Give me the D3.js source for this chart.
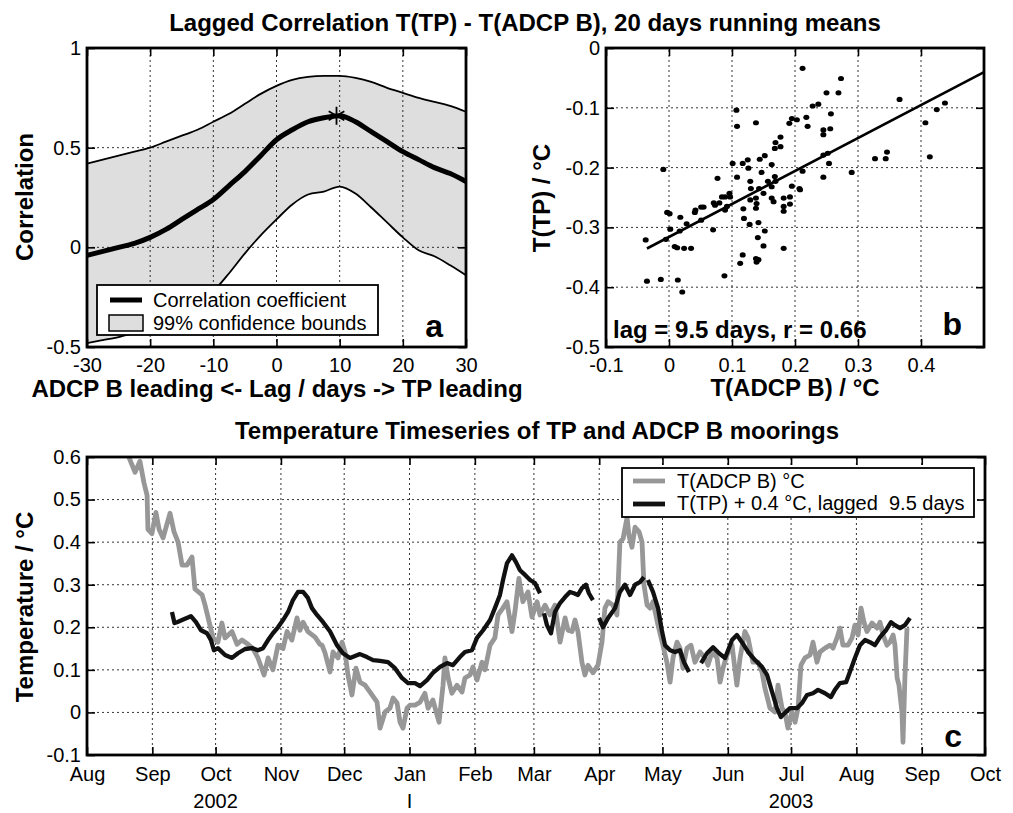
<!DOCTYPE html>
<html>
<head>
<meta charset="utf-8">
<script src="https://cdn.jsdelivr.net/npm/d3@7"></script>
<style>
  body { margin: 0; background: #fff; }
  svg { font-family: "Liberation Sans", Arial, Helvetica, sans-serif; }
</style>
</head>
<body>
<svg id="fig" width="1013" height="813"></svg>
<script>
// ---- panel a: lagged correlation ----
const lagDays = [-30,-27.5,-25,-22.5,-20,-17.5,-15,-12.5,-10,-7.5,-5,-2.5,0,2.5,5,7.5,10,12.5,15,17.5,20,22.5,25,27.5,30]
const corrCoef = [-0.04,-0.02,0.0,0.02,0.05,0.09,0.14,0.19,0.24,0.31,0.38,0.46,0.54,0.59,0.63,0.65,0.66,0.63,0.58,0.53,0.48,0.44,0.40,0.37,0.33]
const upperBound = [0.42,0.44,0.46,0.48,0.50,0.53,0.56,0.59,0.63,0.67,0.72,0.77,0.81,0.84,0.855,0.86,0.86,0.85,0.83,0.80,0.775,0.75,0.73,0.71,0.68]
const lowerBound = [-0.48,-0.465,-0.45,-0.43,-0.41,-0.37,-0.33,-0.28,-0.22,-0.13,-0.03,0.06,0.14,0.215,0.265,0.28,0.305,0.27,0.20,0.125,0.05,-0.015,-0.045,-0.09,-0.14]
const bestLag = [9.5, 0.66]

// ---- panel b: scatter ----
const adcpB = [0.212,0.273,0.250,0.269,0.228,0.237,0.257,0.366,0.438,0.425,0.407,0.414,0.327,0.344,0.346,0.290,
  0.107,0.108,0.138,0.191,0.195,0.203,0.218,0.220,0.245,0.245,0.256,0.177,0.169,0.168,0.177,0.152,0.144,0.163,
  0.245,0.254,0.252,0.212,0.245,0.208,0.207,0.195,0.192,0.192,0.182,0.182,0.182,0.182,0.169,0.168,0.163,0.163,
  0.166,0.157,0.150,0.147,0.143,0.138,0.139,0.138,0.129,0.130,0.129,0.126,0.125,0.117,0.101,0.108,0.118,0.119,
  0.128,0.142,0.141,0.152,0.150,0.138,0.139,0.142,0.117,0.113,0.088,0.097,0.096,0.089,0.089,0.092,0.084,0.077,
  0.071,0.080,0.073,0.070,0.051,0.051,0.055,0.042,0.041,0.028,0.018,0.017,0.009,0.013,0.024,0.035,0.002,-0.003,
  0.001,-0.005,-0.009,-0.037,-0.035,-0.013,0.014,0.021]
const tpT = [-0.034,-0.051,-0.075,-0.075,-0.097,-0.094,-0.110,-0.086,-0.092,-0.103,-0.125,-0.182,-0.185,-0.185,-0.174,-0.208,
  -0.104,-0.131,-0.125,-0.126,-0.118,-0.120,-0.116,-0.131,-0.137,-0.145,-0.135,-0.149,-0.158,-0.168,-0.165,-0.180,-0.186,-0.195,
  -0.179,-0.193,-0.176,-0.206,-0.216,-0.237,-0.235,-0.231,-0.249,-0.261,-0.251,-0.265,-0.273,-0.335,-0.223,-0.215,-0.232,-0.251,
  -0.257,-0.223,-0.243,-0.208,-0.235,-0.251,-0.260,-0.268,-0.223,-0.235,-0.254,-0.201,-0.187,-0.193,-0.193,-0.216,-0.269,-0.285,
  -0.295,-0.292,-0.317,-0.306,-0.331,-0.352,-0.358,-0.354,-0.346,-0.360,-0.381,-0.249,-0.243,-0.249,-0.271,-0.265,-0.249,-0.218,
  -0.259,-0.259,-0.263,-0.304,-0.266,-0.288,-0.266,-0.271,-0.275,-0.294,-0.283,-0.306,-0.332,-0.334,-0.335,-0.335,-0.303,-0.275,
  -0.277,-0.320,-0.203,-0.321,-0.390,-0.387,-0.388,-0.408]
const fitSlope = 0.551, fitIntercept = -0.316, fitFrom = -0.035, fitTo = 0.5

// ---- panel c: time series, [days after 1 Aug 2002, temperature] ----
const adcpSeries = [[19.0,0.61],[22.8,0.564],[25.1,0.59],[27.0,0.54],[28.5,0.51],[28.9,0.43],[30.8,0.42],[32.7,0.47],[34.2,0.43],
  [36.1,0.41],[39.4,0.468],[41.3,0.424],[43.2,0.40],[45.1,0.346],[47.4,0.346],[49.8,0.365],[51.2,0.29],[54.6,0.276],[56.0,0.252],
  [58.3,0.205],[59.8,0.175],[62.1,0.165],[64.0,0.21],[65.5,0.175],[68.8,0.19],[71.2,0.16],[73.5,0.17],[76.4,0.16],[78.7,0.15],
  [81.1,0.128],[84.0,0.088],[85.9,0.128],[88.2,0.10],[90.6,0.158],[93.0,0.15],[94.9,0.19],[97.2,0.17],[99.6,0.222],[101.0,0.193],
  [102.5,0.212],[104.8,0.19],[108.2,0.177],[110.5,0.16],[111.5,0.158],[112.9,0.14],[115.3,0.095],[116.7,0.142],[119.1,0.128],
  [121.0,0.165],[122.4,0.142],[123.8,0.088],[125.7,0.041],[127.6,0.104],[129.5,0.071],[131.9,0.064],[135.2,0.041],[137.6,0.024],
  [139.0,-0.037],[141.4,0.001],[143.7,0.01],[145.2,0.034],[147.1,0.022],[148.5,-0.023],[149.9,-0.037],[151.8,0.01],[153.2,0.017],
  [155.6,0.017],[158.0,0.024],[160.3,0.045],[161.8,0.01],[164.1,0.029],[167.0,-0.023],[168.9,0.064],[169.8,0.128],[171.3,0.081],
  [173.1,0.045],[175.5,0.064],[177.9,0.048],[179.3,0.081],[181.7,0.088],[183.1,0.107],[185.0,0.076],[187.4,0.118],[188.8,0.10],
  [191.2,0.158],[193.5,0.175],[195.0,0.229],[197.3,0.245],[199.2,0.26],[201.6,0.19],[203.0,0.236],[204.9,0.315],[206.8,0.26],
  [209.2,0.283],[211.1,0.224],[213.5,0.26],[214.9,0.229],[217.3,0.252],[219.6,0.229],[222.0,0.252],[224.4,0.165],[226.8,0.222],
  [228.2,0.193],[230.1,0.19],[231.5,0.217],[232.9,0.19],[234.8,0.118],[236.2,0.088],[237.7,0.111],[240.0,0.093],[242.4,0.111],
  [244.3,0.165],[245.7,0.245],[247.2,0.26],[249.5,0.252],[251.4,0.229],[252.8,0.40],[254.3,0.408],[256.2,0.458],[257.1,0.416],
  [258.5,0.388],[260.0,0.435],[261.9,0.424],[263.3,0.40],[264.2,0.30],[265.7,0.252],[267.1,0.245],[268.5,0.26],[270.9,0.205],
  [273.2,0.158],[275.1,0.118],[276.6,0.071],[278.0,0.128],[279.9,0.165],[281.3,0.151],[282.7,0.104],[284.6,0.151],[286.5,0.158],
  [288.4,0.118],[290.8,0.142],[293.2,0.128],[294.6,0.111],[296.5,0.142],[298.9,0.128],[300.3,0.071],[301.7,0.104],[303.6,0.135],
  [306.0,0.158],[308.3,0.064],[309.8,0.128],[312.1,0.19],[313.6,0.175],[315.9,0.118],[318.3,0.118],[320.2,0.095],[321.6,0.057],
  [324.0,0.01],[326.4,0.001],[327.8,0.064],[329.7,0.01],[331.1,0.001],[332.5,-0.037],[334.4,0.001],[335.9,-0.023],[337.3,0.01],
  [338.7,0.111],[340.6,0.128],[343.0,0.135],[344.4,0.165],[346.3,0.118],[347.7,0.142],[350.1,0.151],[352.5,0.158],[353.9,0.151],
  [355.8,0.175],[357.2,0.198],[358.6,0.158],[361.0,0.158],[362.9,0.175],[364.3,0.205],[365.8,0.182],[367.2,0.245],[368.6,0.212],
  [370.0,0.19],[372.4,0.21],[374.8,0.198],[376.2,0.212],[377.6,0.182],[379.5,0.158],[380.9,0.165],[382.4,0.182],[383.3,0.158],
  [384.3,0.081],[385.2,0.064],[386.6,0.001],[387.1,-0.07],[388.0,0.081],[389.0,0.198]]
// null marks a gap in the TP record
const tpSeries = [[40.3,0.236],[41.5,0.21],[42.7,0.212],[45.1,0.217],[49.3,0.226],[51.7,0.212],[54.1,0.193],[56.9,0.186],[58.8,0.17],
  [60.2,0.146],[62.1,0.151],[65.5,0.135],[68.8,0.128],[71.6,0.139],[75.0,0.149],[78.3,0.151],[81.1,0.146],[83.5,0.151],[85.9,0.17],
  [88.2,0.186],[90.6,0.20],[93.0,0.217],[95.4,0.236],[97.7,0.264],[100.1,0.283],[102.5,0.283],[104.8,0.269],[106.7,0.245],
  [109.1,0.229],[112.0,0.212],[115.3,0.19],[118.6,0.158],[121.4,0.139],[124.8,0.128],[129.5,0.137],[132.8,0.13],[135.7,0.123],
  [139.0,0.121],[142.8,0.118],[146.1,0.104],[149.4,0.081],[152.3,0.069],[155.6,0.069],[158.0,0.062],[161.3,0.076],[164.1,0.093],
  [167.5,0.107],[170.8,0.116],[173.6,0.111],[176.9,0.13],[179.3,0.142],[182.6,0.146],[185.0,0.175],[187.9,0.193],[191.2,0.217],
  [193.5,0.245],[195.9,0.276],[197.3,0.31],[199.2,0.35],[201.6,0.369],[203.5,0.353],[205.4,0.334],[207.8,0.323],[210.2,0.311],
  [212.5,0.304],[214.9,0.28],
  null,
  [216.8,0.233],[218.2,0.205],[220.1,0.186],[222.0,0.236],[224.4,0.257],[226.8,0.271],[229.1,0.283],[231.0,0.28],[232.9,0.276],
  [234.8,0.292],[236.7,0.30],[238.1,0.28],[240.0,0.264],
  null,
  [242.9,0.222],[244.8,0.20],[247.2,0.222],[250.5,0.245],[252.8,0.283],[255.2,0.30],[257.6,0.276],[260.0,0.30],[262.3,0.306],[264.2,0.318],
  null,
  [266.1,0.311],[268.5,0.283],[270.9,0.245],[272.8,0.19],[274.2,0.158],[276.6,0.146],[278.9,0.142],[281.3,0.146],[283.2,0.118],[285.6,0.095],
  null,
  [291.3,0.116],[294.1,0.139],[297.0,0.153],[299.8,0.139],[302.7,0.128],[306.0,0.17],[308.3,0.182],[310.7,0.165],[313.6,0.142],
  [316.9,0.123],[320.2,0.107],[322.6,0.088],[325.0,0.048],[327.3,0.01],[329.2,-0.011],[331.1,-0.001],[333.5,0.01],[336.8,0.01],
  [339.2,0.022],[341.6,0.041],[344.4,0.045],[346.8,0.053],[350.1,0.045],[352.9,0.036],[354.8,0.053],[357.2,0.069],[360.1,0.071],
  [361.9,0.095],[364.3,0.128],[366.7,0.158],[369.1,0.17],[371.4,0.165],[373.8,0.158],[376.2,0.177],[379.0,0.193],[381.4,0.212],
  [383.3,0.205],[385.7,0.198],[388.0,0.205],[390.4,0.222]]
const seriesStart = new Date(2002, 7, 1)
const yearLabels = [[new Date(2002, 9, 1), '2002'], [new Date(2003, 0, 1), 'I'], [new Date(2003, 6, 1), '2003']]

const svg = d3.select('#fig')
const fmt = d => String(Math.round(d * 10) / 10)
const toDate = d => new Date(seriesStart.getTime() + d * 864e5)
const TICK_FONT = 20, LABEL_FONT = 24

function grid(g, x, y, xt, yt) {
  const [x0, x1] = x.range(), [y0, y1] = y.range()
  const gg = g.append('g').attr('stroke', '#000').attr('stroke-width', 0.8).attr('stroke-dasharray', '2,3')
  gg.selectAll('.gx').data(xt).enter().append('line')
    .attr('x1', d => x(d)).attr('x2', d => x(d)).attr('y1', y0).attr('y2', y1)
  gg.selectAll('.gy').data(yt).enter().append('line')
    .attr('y1', d => y(d)).attr('y2', d => y(d)).attr('x1', x0).attr('x2', x1)
}

function axes(g, x, y, xt, yt, xf, yf, xpad) {
  const [x0, x1] = x.range(), [y0, y1] = y.range()
  const put = (sel) => {
    sel.select('.domain').remove()
    sel.attr('font-family', null).attr('font-size', TICK_FONT)
    sel.selectAll('line').attr('stroke-width', 1.6)
    sel.selectAll('text').attr('fill', '#000')
  }
  g.append('g').attr('transform', `translate(0,${y0})`)
    .call(d3.axisBottom(x).tickValues(xt).tickSize(-8).tickPadding(xpad).tickFormat(xf)).call(put)
  g.append('g').attr('transform', `translate(0,${y1})`)
    .call(d3.axisTop(x).tickValues(xt).tickSize(-8).tickFormat('')).call(put)
  g.append('g').attr('transform', `translate(${x0},0)`)
    .call(d3.axisLeft(y).tickValues(yt).tickSize(-8).tickPadding(6).tickFormat(yf)).call(put)
  g.append('g').attr('transform', `translate(${x1},0)`)
    .call(d3.axisRight(y).tickValues(yt).tickSize(-8).tickFormat('')).call(put)
  g.append('rect').attr('x', x0).attr('y', y1).attr('width', x1 - x0).attr('height', y0 - y1)
    .attr('fill', 'none').attr('stroke', '#000').attr('stroke-width', 2.8)
}

function label(t, x, y, size, opts = {}) {
  const el = svg.append('text').attr('x', x).attr('y', y).attr('font-size', size)
    .attr('font-weight', opts.bold === false ? 'normal' : 'bold')
    .attr('text-anchor', opts.anchor || 'middle').text(t)
  if (opts.rotate) el.attr('transform', `rotate(-90,${x},${y})`)
  return el
}

// ================= panel a =================
const xA = d3.scaleLinear().domain([-30, 30]).range([87, 466])
const yA = d3.scaleLinear().domain([-0.5, 1]).range([347, 48])
const gA = svg.append('g')
const rowsA = lagDays.map((l, i) => ({lag: l, r: corrCoef[i], hi: upperBound[i], lo: lowerBound[i]}))
const curve = d3.curveMonotoneX

gA.append('path').datum(rowsA)
  .attr('d', d3.area().x(d => xA(d.lag)).y0(d => yA(d.lo)).y1(d => yA(d.hi)).curve(curve))
  .attr('fill', '#dedede')
grid(gA, xA, yA, [-20, -10, 0, 10, 20], [0, 0.5])
;['hi', 'lo'].forEach(k => {
  gA.append('path').datum(rowsA)
    .attr('d', d3.line().x(d => xA(d.lag)).y(d => yA(d[k])).curve(curve))
    .attr('fill', 'none').attr('stroke', '#000').attr('stroke-width', 1.8)
})
gA.append('path').datum(rowsA)
  .attr('d', d3.line().x(d => xA(d.lag)).y(d => yA(d.r)).curve(curve))
  .attr('fill', 'none').attr('stroke', '#000').attr('stroke-width', 5)
gA.append('path')
  .attr('transform', `translate(${xA(bestLag[0])},${yA(bestLag[1])})`)
  .attr('d', d3.symbol(d3.symbolAsterisk, 230)())
  .attr('fill', 'none').attr('stroke', '#000').attr('stroke-width', 1.8)
axes(gA, xA, yA, [-30, -20, -10, 0, 10, 20, 30], [-0.5, 0, 0.5, 1], fmt, fmt, 11)

// legend a
const legA = gA.append('g')
legA.append('rect').attr('x', 97).attr('y', 285).attr('width', 281).attr('height', 50)
  .attr('fill', '#fff').attr('stroke', '#000').attr('stroke-width', 1.8)
legA.append('line').attr('x1', 110).attr('x2', 142).attr('y1', 300).attr('y2', 300)
  .attr('stroke', '#000').attr('stroke-width', 5)
legA.append('rect').attr('x', 109).attr('y', 315).attr('width', 34).attr('height', 16)
  .attr('fill', '#dedede').attr('stroke', '#000').attr('stroke-width', 1.5)
legA.append('text').attr('x', 153).attr('y', 307).attr('font-size', 20).text('Correlation coefficient')
legA.append('text').attr('x', 153).attr('y', 330).attr('font-size', 20).text('99% confidence bounds')
label('a', 443, 337, 32, {anchor: 'end'})

// ================= panel b =================
const xB = d3.scaleLinear().domain([-0.1, 0.5]).range([606, 984])
const yB = d3.scaleLinear().domain([-0.5, 0]).range([347, 48])
const gB = svg.append('g')
grid(gB, xB, yB, [0, 0.1, 0.2, 0.3, 0.4], [-0.1, -0.2, -0.3, -0.4])
gB.selectAll('.dot').data(adcpB.map((v, i) => [v, tpT[i]])).enter().append('ellipse')
  .attr('cx', d => xB(d[0])).attr('cy', d => yB(d[1])).attr('rx', 3).attr('ry', 2.6).attr('fill', '#000')
gB.append('line')
  .attr('x1', xB(fitFrom)).attr('y1', yB(fitIntercept + fitSlope * fitFrom))
  .attr('x2', xB(fitTo)).attr('y2', yB(fitIntercept + fitSlope * fitTo))
  .attr('stroke', '#000').attr('stroke-width', 2.6)
axes(gB, xB, yB, [-0.1, 0, 0.1, 0.2, 0.3, 0.4], [-0.5, -0.4, -0.3, -0.2, -0.1, 0], fmt, fmt, 11)
label('lag = 9.5 days, r = 0.66', 613, 338, 24, {anchor: 'start'})
label('b', 962, 335, 32, {anchor: 'end'})

// ================= panel c =================
const xC = d3.scaleTime().domain([seriesStart, new Date(2003, 9, 1)]).range([87, 985])
const yC = d3.scaleLinear().domain([-0.1, 0.6]).range([755, 457])
const gC = svg.append('g')
const months = xC.ticks(d3.timeMonth.every(1))
grid(gC, xC, yC, months.slice(1, -1), [0, 0.1, 0.2, 0.3, 0.4, 0.5])
svg.append('clipPath').attr('id', 'clipC').append('rect')
  .attr('x', 87).attr('y', 457).attr('width', 898).attr('height', 298)
const lineC = d3.line().defined(d => d !== null)
  .x(d => xC(toDate(d[0]))).y(d => yC(d[1])).curve(d3.curveLinear)
gC.append('path').datum(adcpSeries).attr('d', lineC).attr('clip-path', 'url(#clipC)')
  .attr('fill', 'none').attr('stroke', '#979797').attr('stroke-width', 4.8).attr('stroke-linejoin', 'round')
gC.append('path').datum(tpSeries).attr('d', lineC).attr('clip-path', 'url(#clipC)')
  .attr('fill', 'none').attr('stroke', '#111').attr('stroke-width', 4.3).attr('stroke-linejoin', 'round')
axes(gC, xC, yC, months, [-0.1, 0, 0.1, 0.2, 0.3, 0.4, 0.5, 0.6], d3.timeFormat('%b'), fmt, 12)
gC.selectAll('.year').data(yearLabels).enter().append('text')
  .attr('x', d => xC(d[0])).attr('y', 808).attr('text-anchor', 'middle').attr('font-size', TICK_FONT).text(d => d[1])

// legend c
const legC = gC.append('g')
legC.append('rect').attr('x', 622).attr('y', 468).attr('width', 352).attr('height', 49)
  .attr('fill', '#fff').attr('stroke', '#000').attr('stroke-width', 1.8)
legC.append('line').attr('x1', 633).attr('x2', 665).attr('y1', 481).attr('y2', 481)
  .attr('stroke', '#979797').attr('stroke-width', 4.8)
legC.append('line').attr('x1', 633).attr('x2', 665).attr('y1', 504).attr('y2', 504)
  .attr('stroke', '#111').attr('stroke-width', 4.8)
legC.append('text').attr('x', 677).attr('y', 488).attr('font-size', 20).text('T(ADCP B) \u00b0C')
legC.append('text').attr('x', 677).attr('y', 510).attr('font-size', 20).text('T(TP) + 0.4 \u00b0C, lagged  9.5 days')
  .style('white-space', 'pre')
label('c', 962, 747, 32, {anchor: 'end'})

// ================= titles and axis labels =================
label('Lagged Correlation T(TP) - T(ADCP B), 20 days running means', 525, 31, LABEL_FONT)
label('ADCP B leading <- Lag / days -> TP leading', 277, 397, LABEL_FONT)
label('T(ADCP B) / \u00b0C', 795, 396, LABEL_FONT)
label('Correlation', 33, 197, LABEL_FONT, {rotate: true})
label('T(TP) / \u00b0C', 550, 198, LABEL_FONT, {rotate: true})
label('Temperature Timeseries of TP and ADCP B moorings', 537, 439, LABEL_FONT)
label('Temperature / \u00b0C', 33, 607, LABEL_FONT, {rotate: true})
</script>
</body>
</html>
